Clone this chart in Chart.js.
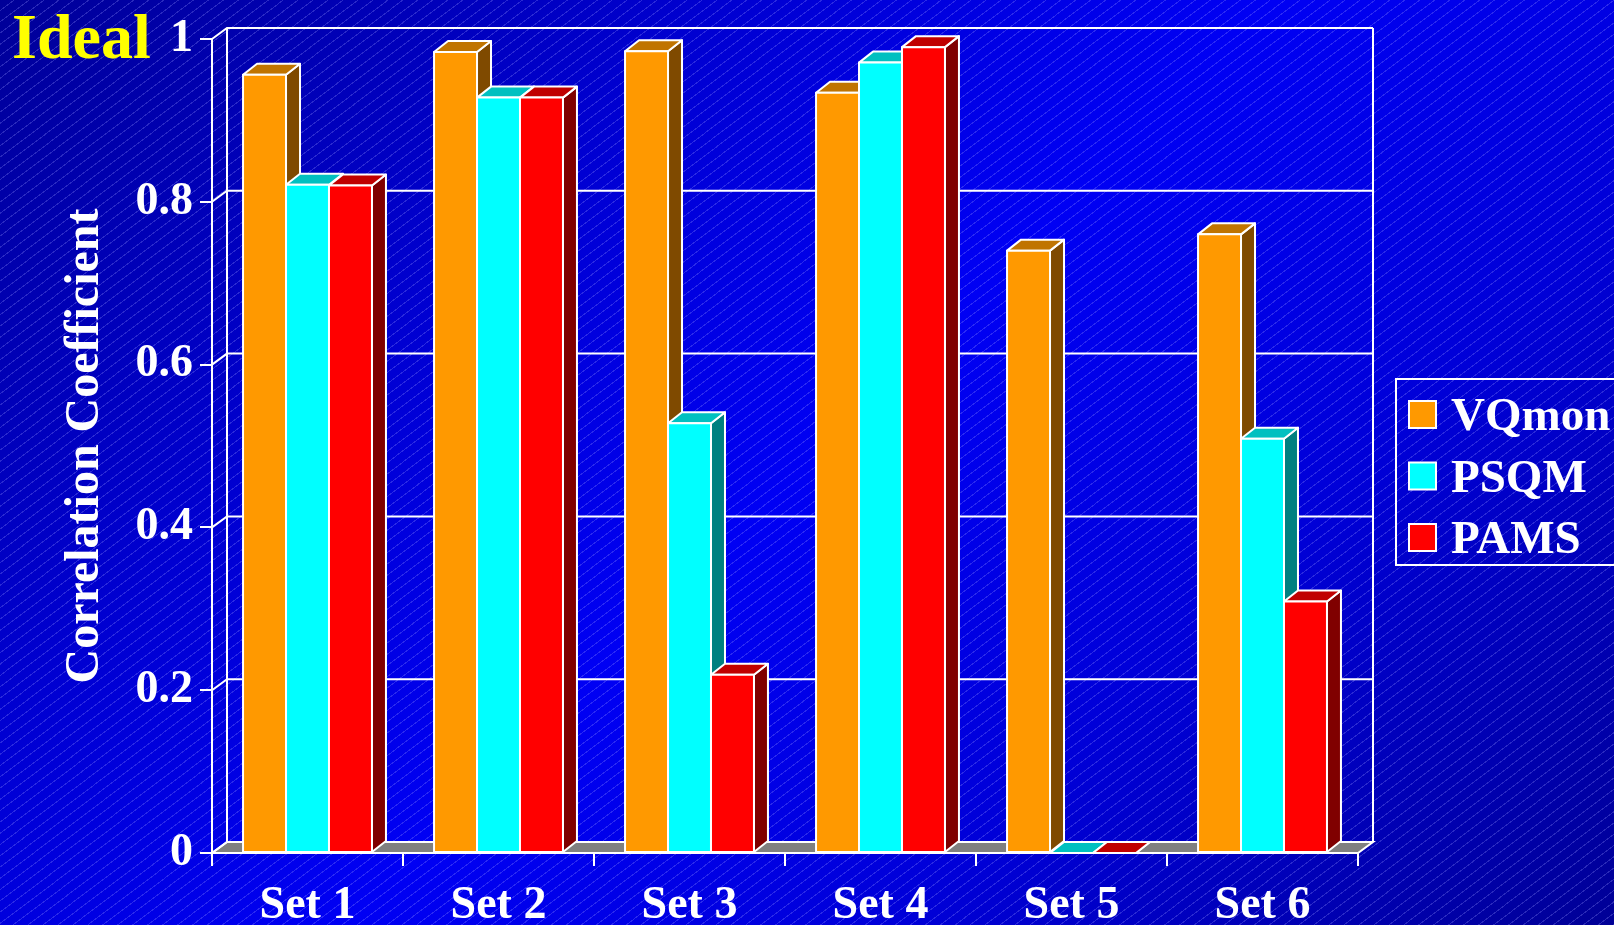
<!DOCTYPE html>
<html>
<head>
<meta charset="utf-8">
<script src="https://cdn.jsdelivr.net/npm/chart.js@4.4.1/dist/chart.umd.min.js"></script>
<style>
  html, body {
    margin: 0;
    padding: 0;
    width: 1614px;
    height: 925px;
    overflow: hidden;
  }
  body {
    background:
      repeating-linear-gradient(143deg, rgba(0,0,0,0) 0px, rgba(0,0,0,0) 8px, rgba(150,150,255,0.28) 8px, rgba(150,150,255,0.28) 9px),
      linear-gradient(135deg, #000098 0%, #0000d0 28%, #0000f4 50%, #0000d8 72%, #000096 100%);
  }
  #chart { display: block; }
</style>
</head>
<body>
<canvas id="chart" width="1614" height="925"></canvas>
<script>
// data
const categories = ["Set 1", "Set 2", "Set 3", "Set 4", "Set 5", "Set 6"];
const vqmon = [0.956, 0.984, 0.985, 0.934, 0.740, 0.760];
const psqm  = [0.821, 0.928, 0.528, 0.971, 0,     0.509];
const pams  = [0.820, 0.928, 0.219, 0.990, 0,     0.309];
const seriesNames = ["VQmon", "PSQM", "PAMS"];
const yTickLabels = ["0", "0.2", "0.4", "0.6", "0.8", "1"];

const frontColors = ["#ff9900", "#00ffff", "#ff0000"];
const topColors   = ["#c07400", "#00c0c0", "#c00000"];
const sideColors  = ["#7f4a00", "#008080", "#800000"];

const FONT = "'Liberation Serif', 'Times New Roman', serif";
const WALL_DX = 15, BAR_DX = 14, DY = -11;

function poly(ctx, pts, fill) {
  ctx.beginPath();
  ctx.moveTo(pts[0][0], pts[0][1]);
  for (let i = 1; i < pts.length; i++) ctx.lineTo(pts[i][0], pts[i][1]);
  ctx.closePath();
  ctx.fillStyle = fill;
  ctx.fill();
  ctx.stroke();
}

// back wall, floor and the 3d faces of the bars
const box3d = {
  id: "box3d",
  beforeDatasetsDraw(chart) {
    const ctx = chart.ctx;
    const a = chart.chartArea;
    const y = chart.scales.y;
    ctx.save();
    ctx.strokeStyle = "#ffffff";
    ctx.lineWidth = 2;
    // floor
    poly(ctx, [[a.left, a.bottom], [a.right, a.bottom], [a.right + WALL_DX, a.bottom + DY], [a.left + WALL_DX, a.bottom + DY]], "#808080");
    // grid on back wall and left wall
    y.ticks.forEach(t => {
      const py = y.getPixelForValue(t.value);
      ctx.beginPath();
      ctx.moveTo(a.left, py);
      ctx.lineTo(a.left + WALL_DX, py + DY);
      if (t.value > 0) ctx.lineTo(a.right + WALL_DX, py + DY);
      ctx.stroke();
    });
    ctx.beginPath();
    ctx.moveTo(a.left + WALL_DX, a.top + DY);
    ctx.lineTo(a.left + WALL_DX, a.bottom + DY);
    ctx.moveTo(a.right + WALL_DX, a.top + DY);
    ctx.lineTo(a.right + WALL_DX, a.bottom + DY);
    ctx.stroke();
    ctx.restore();
  },
  beforeDatasetDraw() {
    return false;
  },
  afterDatasetsDraw(chart) {
    const ctx = chart.ctx;
    const metas = chart.data.datasets.map((d, i) => chart.getDatasetMeta(i));
    ctx.save();
    ctx.strokeStyle = "#ffffff";
    ctx.lineWidth = 2;
    ctx.lineJoin = "round";
    for (let i = 0; i < categories.length; i++) {
      metas.forEach((meta, d) => {
        const bar = meta.data[i];
        const p = bar.getProps(["x", "y", "base", "width"], true);
        const l = p.x - p.width / 2, r = p.x + p.width / 2;
        const t = Math.min(p.y, p.base), b = Math.max(p.y, p.base);
        poly(ctx, [[r, t], [r + BAR_DX, t + DY], [r + BAR_DX, b + DY], [r, b]], sideColors[d]);
        poly(ctx, [[l, t], [l + BAR_DX, t + DY], [r + BAR_DX, t + DY], [r, t]], topColors[d]);
        if (b - t > 0.5) {
          ctx.fillStyle = frontColors[d];
          ctx.fillRect(l, t, r - l, b - t);
          ctx.strokeRect(l, t, r - l, b - t);
        }
      });
    }
    ctx.restore();
  },
  afterDraw(chart) {
    const ctx = chart.ctx;
    ctx.save();
    // "Ideal" marker
    ctx.font = "bold 64px " + FONT;
    ctx.fillStyle = "#ffff00";
    ctx.textBaseline = "alphabetic";
    ctx.textAlign = "left";
    ctx.fillText("Ideal", 12, 58);
    // legend
    ctx.strokeStyle = "#ffffff";
    ctx.lineWidth = 2;
    ctx.strokeRect(1396, 379, 260, 186);
    ctx.font = "bold 47px " + FONT;
    chart.data.datasets.forEach((ds, d) => {
      const yy = 401 + d * 61.5;
      ctx.fillStyle = frontColors[d];
      ctx.fillRect(1409, yy, 27, 27);
      ctx.strokeRect(1409, yy, 27, 27);
      ctx.fillStyle = "#ffffff";
      ctx.fillText(ds.label, 1451, yy + 29);
    });
    ctx.restore();
  }
};

new Chart(document.getElementById("chart"), {
  type: "bar",
  data: {
    labels: categories,
    datasets: [vqmon, psqm, pams].map((vals, i) => ({
      label: seriesNames[i],
      data: vals,
      backgroundColor: frontColors[i],
      borderColor: "#ffffff",
      borderWidth: 2,
      categoryPercentage: 0.675,
      barPercentage: 1.0
    }))
  },
  options: {
    responsive: false,
    animation: false,
    layout: { padding: { top: 39, right: 256, left: 0, bottom: 0 } },
    plugins: {
      legend: { display: false },
      tooltip: { enabled: false }
    },
    scales: {
      x: {
        grid: { offset: true, drawOnChartArea: false, drawTicks: true, tickLength: 13, color: "#ffffff", lineWidth: 2 },
        border: { color: "#ffffff", width: 2 },
        ticks: { color: "#ffffff", font: { family: FONT, size: 46, weight: "bold" }, padding: 13, maxRotation: 0 },
        afterFit(scale) { scale.height = 72; }
      },
      y: {
        min: 0,
        max: 1,
        ticks: {
          stepSize: 0.2,
          color: "#ffffff",
          font: { family: FONT, size: 46, weight: "bold" },
          padding: 7,
          callback: (v, i) => yTickLabels[i]
        },
        grid: { drawOnChartArea: false, drawTicks: true, tickLength: 12, color: "#ffffff", lineWidth: 2 },
        border: { color: "#ffffff", width: 2 },
        title: {
          display: true,
          text: "Correlation Coefficient",
          color: "#ffffff",
          font: { family: FONT, size: 48, weight: "bold" },
          padding: { top: 57, bottom: 0 }
        },
        afterFit(scale) { scale.width = 212; }
      }
    }
  },
  plugins: [box3d]
});
</script>
</body>
</html>
